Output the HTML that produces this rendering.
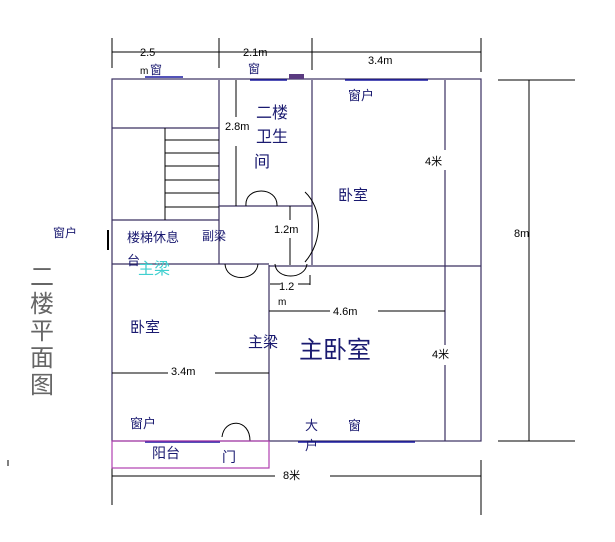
<!DOCTYPE html>
<html><head><meta charset="utf-8"><style>
body{margin:0;background:#fff}
svg{display:block}
text{font-family:"Liberation Sans","Noto Sans CJK SC",sans-serif}
</style></head><body>
<svg width="615" height="542" viewBox="0 0 615 542" xmlns="http://www.w3.org/2000/svg">
<g stroke="#000" stroke-width="1" fill="none">
<!-- top dimension -->
<line x1="112" y1="52" x2="481" y2="52"/>
<line x1="112" y1="38" x2="112" y2="68"/>
<line x1="219" y1="38" x2="219" y2="68"/>
<line x1="312" y1="38" x2="312" y2="70"/>
<line x1="481" y1="38" x2="481" y2="72"/>
<!-- right dimension -->
<line x1="529" y1="80" x2="529" y2="441"/>
<line x1="498" y1="80" x2="575" y2="80"/>
<line x1="498" y1="441" x2="575" y2="441"/>
<!-- bottom dimension -->
<line x1="112" y1="476" x2="275" y2="476"/>
<line x1="330" y1="476" x2="481" y2="476"/>
<line x1="112" y1="441" x2="112" y2="505"/>
<line x1="481" y1="460" x2="481" y2="515"/>
</g>
<g stroke="#3a3060" stroke-width="1.2" fill="none">
<rect x="112" y="79" width="369" height="362"/>
<line x1="219" y1="80" x2="219" y2="264"/>
<line x1="312" y1="80" x2="312" y2="265"/>
<line x1="269" y1="265" x2="269" y2="441"/>
<line x1="112" y1="264" x2="269" y2="264"/>
<line x1="269" y1="266" x2="481" y2="266"/>
<line x1="112" y1="128" x2="219" y2="128"/>
<line x1="219" y1="206" x2="312" y2="206"/>
<line x1="112" y1="220" x2="219" y2="220"/>
<line x1="445" y1="80" x2="445" y2="150"/>
<line x1="445" y1="170" x2="445" y2="345"/>
<line x1="445" y1="365" x2="445" y2="441"/>
</g>
<g stroke="#000" stroke-width="1" fill="none">
<line x1="165" y1="128" x2="165" y2="220"/>
<line x1="165" y1="140" x2="219" y2="140"/>
<line x1="165" y1="153" x2="219" y2="153"/>
<line x1="165" y1="166" x2="219" y2="166"/>
<line x1="165" y1="180" x2="219" y2="180"/>
<line x1="165" y1="193" x2="219" y2="193"/>
<line x1="165" y1="207" x2="219" y2="207"/>
<line x1="236" y1="80" x2="236" y2="117"/>
<line x1="236" y1="146" x2="236" y2="206"/>
<line x1="290" y1="206" x2="290" y2="220"/>
<line x1="290" y1="238" x2="290" y2="265"/>
<line x1="269" y1="311" x2="330" y2="311"/>
<line x1="378" y1="311" x2="445" y2="311"/>
<line x1="112" y1="373" x2="168" y2="373"/>
<line x1="215" y1="373" x2="269" y2="373"/>
<line x1="270" y1="284" x2="280" y2="284"/>
<line x1="298" y1="284" x2="310" y2="284"/>
<line x1="310" y1="275" x2="310" y2="285"/>
<!-- door arcs -->
<path d="M246 206 C244 186 278 186 277 206"/>
<path d="M305 192 C322 208 324 240 305 262"/>
<path d="M225 264 C226 282 256 282 258 264"/>
<path d="M275 264 C276 280 305 280 307 264"/>
<path d="M222 437 C224 418 250 418 250 441"/>
<line x1="108" y1="230" x2="108" y2="250" stroke-width="2"/>
</g>
<!-- windows -->
<g stroke="#1a1aa0" stroke-width="1.5">
<line x1="145" y1="77" x2="183" y2="77"/>
<line x1="250" y1="80" x2="287" y2="80"/>
<line x1="345" y1="80" x2="428" y2="80"/>
<line x1="298" y1="442" x2="415" y2="442"/>
<line x1="145" y1="442" x2="220" y2="442"/>
</g>
<rect x="289" y="74" width="15" height="5" fill="#5a3a80"/>
<rect x="112" y="441" width="157" height="27" fill="none" stroke="#b040b0" stroke-width="1.2"/>
<line x1="8" y1="460" x2="8" y2="466" stroke="#000"/>
<g font-size="11" fill="#000">
<text x="140" y="56" style="background:#fff">2.5</text>
<text x="140" y="74" font-size="10">m</text>
<text x="243" y="56">2.1m</text>
<text x="368" y="64">3.4m</text>
<text x="225" y="130">2.8m</text>
<text x="274" y="233">1.2m</text>
<text x="279" y="290">1.2</text>
<text x="278" y="305" font-size="10">m</text>
<text x="333" y="315">4.6m</text>
<text x="171" y="375">3.4m</text>
<text x="425" y="165">4米</text>
<text x="432" y="358">4米</text>
<text x="514" y="237">8m</text>
<text x="283" y="479">8米</text>
</g>
<g fill="#1a1a70" font-size="13">
<text x="150" y="74" font-size="12">窗</text>
<text x="248" y="73" font-size="12">窗</text>
<text x="348" y="100">窗户</text>
<text x="256" y="118" font-size="16">二楼</text>
<text x="256" y="142" font-size="16">卫生</text>
<text x="254" y="167" font-size="16">间</text>
<text x="338" y="200" font-size="15">卧室</text>
<text x="127" y="242">楼梯休息</text>
<text x="202" y="240" font-size="12">副梁</text>
<text x="127" y="265">台</text>
<text x="53" y="237" font-size="12">窗户</text>
<text x="130" y="332" font-size="15">卧室</text>
<text x="248" y="347" font-size="15">主梁</text>
<text x="299" y="358" font-size="24">主卧室</text>
<text x="130" y="428">窗户</text>
<text x="152" y="458" font-size="14">阳台</text>
<text x="222" y="462" font-size="14">门</text>
<text x="305" y="430">大</text>
<text x="305" y="450">户</text>
<text x="348" y="430">窗</text>
</g>
<text x="138" y="274" font-size="16" fill="#40d0d0">主梁</text>
<g fill="#666" font-size="24">
<text x="30" y="285">二</text>
<text x="30" y="312">楼</text>
<text x="30" y="339">平</text>
<text x="30" y="366">面</text>
<text x="30" y="393">图</text>
</g>
</svg>
</body></html>
